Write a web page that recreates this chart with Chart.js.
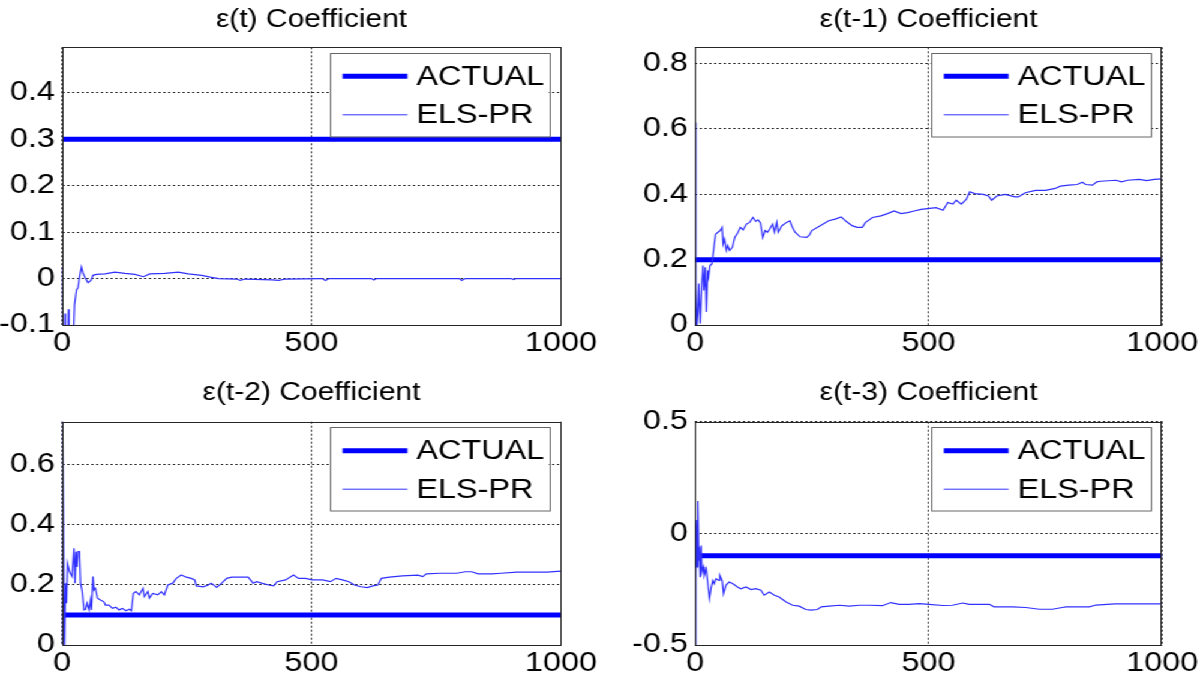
<!DOCTYPE html>
<html><head><meta charset="utf-8">
<script src="https://cdn.jsdelivr.net/npm/chart.js@4.4.0/dist/chart.umd.min.js"></script>
<style>
html,body{margin:0;padding:0;background:#fff;overflow:hidden;width:1203px;height:678px}
#wrap{position:absolute;left:0;top:0;width:1003px;height:678px;transform:scaleX(1.2);transform-origin:0 0}
canvas{position:absolute}
</style></head><body><div id="wrap">
<canvas id="c0" width="500" height="360" style="left:0;top:0"></canvas>
<canvas id="c1" width="502" height="360" style="left:500px;top:0"></canvas>
<canvas id="c2" width="500" height="318" style="left:0;top:360px"></canvas>
<canvas id="c3" width="502" height="318" style="left:500px;top:360px"></canvas>
</div>
<script>
// ---------- data ----------
const titles = ['ε(t) Coefficient', 'ε(t-1) Coefficient', 'ε(t-2) Coefficient', 'ε(t-3) Coefficient'];
const seriesNames = ['ACTUAL', 'ELS-PR'];
const timeRange = [0, 1000];
const xTicks = [0, 500, 1000];
const actualValues = [0.3, 0.2, 0.1, -0.1];

const yTicks0 = [-0.1, 0, 0.1, 0.2, 0.3, 0.4];
const yTicks1 = [0, 0.2, 0.4, 0.6, 0.8];
const yTicks2 = [0, 0.2, 0.4, 0.6];
const yTicks3 = [-0.5, 0, 0.5];
const yLimits0 = [-0.1, 0.498];
const yLimits1 = [0, 0.85];
const yLimits2 = [0, 0.744];
const yLimits3 = [-0.5, 0.5];

const els0X = [0,1,5,6,7,12,13,14,22,25,29,32,36,39,42,46,52,58,62,69,86,106,126,146,163,176,206,233,253,280,297,314,350,357,367,421,434,448,521,528,535,620,625,630,796,801,808,900,905,910,1000];
const els0Y = [0.025,-0.15,-0.15,-0.075,-0.15,-0.15,-0.066,-0.15,-0.15,-0.057,-0.024,-0.020,0.009,0.025,0.012,0.003,-0.009,-0.004,0.007,0.009,0.010,0.014,0.011,0.009,0.004,0.010,0.011,0.014,0.010,0.007,0.003,0.000,-0.001,-0.004,-0.001,-0.003,-0.004,-0.001,0.000,-0.004,0.000,0.000,-0.003,0.000,0.000,-0.004,0.000,0.000,-0.002,0.000,0.000];

const els1X = [0,1,2,4,6,8,11,14,17,19,22,24,27,29,32,36,40,44,49,54,58,60,63,67,70,74,80,85,92,97,103,110,117,124,130,135,140,145,150,155,160,166,170,175,178,186,196,203,207,214,225,239,245,250,268,286,300,313,322,336,347,358,365,380,398,412,426,441,455,469,484,502,516,531,541,552,559,570,581,588,599,617,628,635,646,664,685,692,707,729,750,771,782,800,818,829,836,851,860,868,901,913,926,951,967,983,1000];
const els1Y = [0.62,0.0,0.116,0.0,0.035,0.127,0.005,0.116,0.182,0.106,0.177,0.04,0.167,0.147,0.182,0.187,0.233,0.278,0.284,0.289,0.299,0.248,0.263,0.228,0.243,0.228,0.238,0.268,0.284,0.299,0.291,0.309,0.314,0.329,0.317,0.322,0.312,0.268,0.289,0.284,0.294,0.309,0.284,0.314,0.284,0.304,0.314,0.319,0.304,0.284,0.270,0.268,0.276,0.289,0.304,0.319,0.324,0.331,0.319,0.304,0.299,0.299,0.314,0.329,0.334,0.341,0.349,0.341,0.344,0.349,0.354,0.357,0.359,0.351,0.375,0.370,0.382,0.370,0.385,0.408,0.402,0.400,0.395,0.382,0.395,0.400,0.392,0.392,0.405,0.412,0.412,0.418,0.425,0.428,0.430,0.437,0.430,0.428,0.438,0.440,0.443,0.438,0.443,0.446,0.442,0.446,0.447];

const els2X = [0,1,2,3,4,5,7,9,11,15,20,24,26,28,30,32,35,37,40,44,47,50,54,57,59,62,64,67,71,77,84,87,94,101,108,114,121,128,135,139,143,148,155,162,165,172,175,182,192,199,205,212,222,229,239,249,259,266,269,283,293,299,310,320,330,340,360,373,383,390,400,414,424,431,448,464,474,488,501,522,538,549,562,575,586,599,612,623,633,640,656,682,713,723,730,757,791,808,821,834,861,880,911,942,972,1000];
const els2Y = [0.0,0.9,0.9,0.9,0.05,0.0,0.206,0.139,0.272,0.244,0.228,0.322,0.206,0.311,0.26,0.311,0.311,0.206,0.183,0.117,0.119,0.139,0.117,0.15,0.117,0.228,0.183,0.189,0.156,0.15,0.144,0.133,0.133,0.122,0.126,0.117,0.122,0.114,0.119,0.114,0.172,0.178,0.167,0.189,0.161,0.178,0.156,0.172,0.167,0.178,0.167,0.2,0.206,0.222,0.233,0.226,0.222,0.217,0.197,0.194,0.2,0.206,0.192,0.206,0.222,0.226,0.226,0.226,0.206,0.211,0.206,0.2,0.197,0.211,0.217,0.233,0.222,0.222,0.217,0.217,0.211,0.222,0.217,0.211,0.2,0.194,0.191,0.197,0.2,0.222,0.226,0.23,0.233,0.228,0.237,0.239,0.239,0.244,0.244,0.237,0.237,0.239,0.243,0.243,0.243,0.246];

const els3X = [0,1,2,4,5,6,8,9,11,13,15,18,20,24,27,31,34,38,41,45,51,53,58,61,66,73,81,91,98,109,120,130,141,148,159,170,180,195,209,223,237,248,262,270,287,309,330,352,373,401,419,437,458,480,501,530,551,573,587,608,630,640,680,708,737,765,786,794,815,844,858,899,932,965,1000];
const els3Y = [0.03,-0.5,-0.18,0.06,-0.15,0.145,-0.12,-0.06,-0.196,-0.055,-0.174,-0.151,-0.188,-0.159,-0.218,-0.292,-0.248,-0.211,-0.226,-0.203,-0.211,-0.188,-0.211,-0.27,-0.233,-0.218,-0.226,-0.24,-0.248,-0.24,-0.252,-0.248,-0.255,-0.277,-0.263,-0.277,-0.285,-0.307,-0.322,-0.326,-0.341,-0.344,-0.341,-0.329,-0.326,-0.322,-0.326,-0.322,-0.322,-0.324,-0.31,-0.318,-0.318,-0.315,-0.318,-0.323,-0.322,-0.312,-0.318,-0.318,-0.318,-0.329,-0.329,-0.332,-0.34,-0.34,-0.332,-0.329,-0.329,-0.329,-0.321,-0.316,-0.316,-0.316,-0.316];

// ---------- layout / style ----------
const FONT = '"Liberation Sans", Arial, Helvetica, sans-serif';
const BLUE = '#0000ff';
const THIN = '#3030ff';
const panels = [
  {id:'c0', ex:els0X, ey:els0Y, yt:yTicks0, yl:yLimits0, padTop:47.3, padRight:32.5, yW:51.7, xH:35, titleY:27},
  {id:'c1', ex:els1X, ey:els1Y, yt:yTicks1, yl:yLimits1, padTop:47.3, padRight:33.5, yW:79.2, xH:35, titleY:27},
  {id:'c2', ex:els2X, ey:els2Y, yt:yTicks2, yl:yLimits2, padTop:61.7, padRight:32.5, yW:51.7, xH:33, titleY:40},
  {id:'c3', ex:els3X, ey:els3Y, yt:yTicks3, yl:yLimits3, padTop:61.7, padRight:33.5, yW:79.2, xH:33, titleY:40}
];

function fmt(v){ return String(Math.round(v*10)/10); }

const decor = {
  id:'decor',
  afterDatasetsDraw(chart, args, opts){
    const {ctx, chartArea:a} = chart;
    ctx.save();
    ctx.strokeStyle = '#262626'; ctx.lineWidth = 1; ctx.setLineDash([]);
    ctx.strokeRect(Math.round(a.left)+0.5, Math.round(a.top)+0.5, Math.round(a.right-a.left)-1, Math.round(a.bottom-a.top));
    ctx.fillStyle = '#000'; ctx.font = '25px ' + FONT;
    ctx.textAlign = 'center'; ctx.textBaseline = 'alphabetic';
    ctx.fillText(opts.title, (a.left+a.right)/2, opts.titleY);
    const w = 183, h = 83.5;
    const x1 = a.right - 10 - w, y1 = a.top + 5.5;
    ctx.fillStyle = '#fff'; ctx.fillRect(x1, y1, w, h);
    ctx.strokeStyle = '#666'; ctx.lineWidth = 1;
    ctx.strokeRect(Math.round(x1)+0.5, Math.round(y1)+0.5, w, h);
    const rows = [{y:y1+23.5, lw:5, c:BLUE, t:seriesNames[0]}, {y:y1+62, lw:1, c:THIN, t:seriesNames[1]}];
    ctx.font = '27px ' + FONT; ctx.textAlign = 'left'; ctx.textBaseline = 'middle';
    rows.forEach(r => {
      ctx.strokeStyle = r.c; ctx.lineWidth = r.lw;
      ctx.beginPath(); ctx.moveTo(x1+11, r.y); ctx.lineTo(x1+65, r.y); ctx.stroke();
      ctx.fillStyle = '#000'; ctx.fillText(r.t, x1+72.5, r.y+1);
    });
    ctx.restore();
  }
};

panels.forEach((p, i) => {
  const els = p.ex.map((x, k) => ({x:x, y:p.ey[k]}));
  const act = timeRange.map(t => ({x:t, y:actualValues[i]}));
  new Chart(document.getElementById(p.id), {
    type:'line',
    data:{ datasets:[
      {label:seriesNames[1], data:els, borderColor:THIN, borderWidth:1.2, pointRadius:0, tension:0, order:0, clip:0},
      {label:seriesNames[0], data:act, borderColor:BLUE, borderWidth:5, pointRadius:0, tension:0, order:1, clip:0, borderCapStyle:'butt'}
    ]},
    options:{
      responsive:false, animation:false, devicePixelRatio:1, events:[],
      layout:{padding:{top:p.padTop, right:p.padRight, left:0, bottom:0}},
      plugins:{legend:{display:false}, tooltip:{enabled:false}, decor:{title:titles[i], titleY:p.titleY}},
      scales:{
        x:{type:'linear', min:timeRange[0], max:timeRange[1],
           afterBuildTicks:s=>{ s.ticks = xTicks.map(v=>({value:v})); },
           afterFit:s=>{ s.height = p.xH; },
           ticks:{font:{family:FONT, size:27}, color:'#000', padding:2, maxRotation:0, autoSkip:false, callback:v=>String(v)},
           grid:{color:'#303030', drawTicks:false, lineWidth:1},
           border:{display:false, dash:[2,2]}},
        y:{type:'linear', min:p.yl[0], max:p.yl[1],
           afterBuildTicks:s=>{ s.ticks = p.yt.map(v=>({value:v})); },
           afterFit:s=>{ s.width = p.yW; },
           ticks:{font:{family:FONT, size:27}, color:'#000', padding:6, autoSkip:false, callback:v=>fmt(v)},
           grid:{color:'#303030', drawTicks:false, lineWidth:1},
           border:{display:false, dash:[2,2]}}
      }
    },
    plugins:[decor]
  });
});
</script>
</body></html>
